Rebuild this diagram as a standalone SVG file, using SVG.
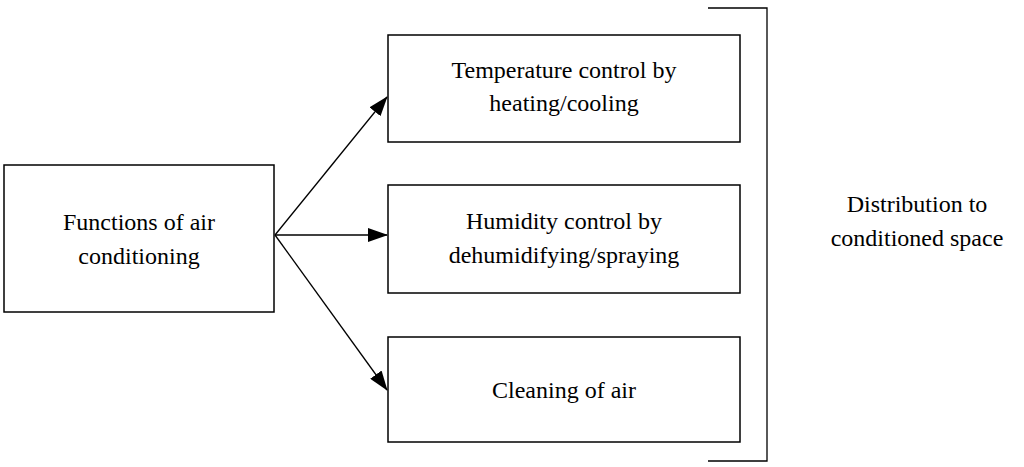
<svg xmlns="http://www.w3.org/2000/svg" width="1024" height="467" viewBox="0 0 1024 467">
<style>
.box{fill:#fff;stroke:#000;stroke-width:1.5}
.t{font-family:"Liberation Serif","Times New Roman",serif;font-size:24px;fill:#000;text-anchor:middle}
.c{stroke:#000;stroke-width:1.3;fill:none}
</style>
<defs><marker id="a" markerWidth="20" markerHeight="14" refX="19" refY="7" orient="auto" markerUnits="userSpaceOnUse"><path d="M0,0 L20,7 L0,14 Z" fill="#000"/></marker></defs>
<rect width="1024" height="467" fill="#fff"/>
<g id="n0"><rect class="box" x="4" y="165" width="270" height="147"/><text class="t" x="139" y="230">Functions of air</text><text class="t" x="139" y="264">conditioning</text></g>
<g id="n1"><rect class="box" x="388" y="35" width="352" height="107"/><text class="t" x="564" y="78">Temperature control by</text><text class="t" x="564" y="111">heating/cooling</text></g>
<g id="n2"><rect class="box" x="388" y="185" width="352" height="108"/><text class="t" x="564" y="229">Humidity control by</text><text class="t" x="564" y="263">dehumidifying/spraying</text></g>
<g id="n3"><rect class="box" x="388" y="337" width="352" height="105"/><text class="t" x="564" y="398">Cleaning of air</text></g>
<g id="bracket"><path class="c" d="M708,8 H767 V461 H708" stroke="#555" stroke-width="2"/><text class="t" x="917" y="212">Distribution to</text><text class="t" x="917" y="246">conditioned space</text></g>
<g id="connectors">
<line class="c" x1="275" y1="235" x2="387" y2="97" marker-end="url(#a)"/>
<line class="c" x1="275" y1="235" x2="387" y2="235" marker-end="url(#a)"/>
<line class="c" x1="275" y1="235" x2="387" y2="390" marker-end="url(#a)"/>
</g>
</svg>
